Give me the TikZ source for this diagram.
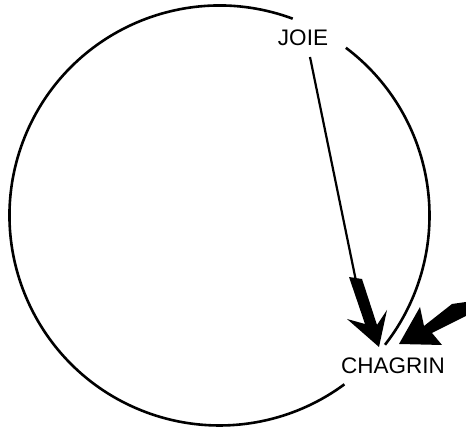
\documentclass[tikz,border=0pt]{standalone}
\usepackage{fontspec}
\setmainfont{Liberation Sans}
\begin{document}
\begin{tikzpicture}[x=1pt,y=1pt,
  ring/.style={line width=2.6pt},
  link/.style={line width=2.2pt},
  barbhead/.style={fill=black,draw=none},
  word/.style={inner sep=0pt,font=\fontsize{22.5}{27}\selectfont}]
\useasboundingbox (0,0) rectangle (466,427);
% circle arcs (centre 219.5,211.5, radius 210)
\coordinate (c) at (219.5,211.5);
\draw[ring] ([shift={(69.6:210)}]c) arc[start angle=69.6, end angle=306.5, radius=210];
\draw[ring] ([shift={(53:210)}]c) arc[start angle=53, end angle=-38, radius=210];
% labels
\node[word] (joie) at (303,389) {JOIE};
\node[word] (chagrin) at (393,61) {CHAGRIN};
% arrow from JOIE
\coordinate (jstart) at (310,370);
\coordinate (a1) at (356,146);
\draw[link] (jstart) -- (a1);
\fill[barbhead] (349,150) -- (362,148) -- (377,102) -- (387,117) -- (379,80) -- (347,108) -- (365,103) -- cycle;
% arrow from the right
\fill[barbhead] (452,123) -- (466,125) -- (466,111) -- (432,94) -- (442,82) -- (399,83) -- (420,120) -- (424,101) -- cycle;
\end{tikzpicture}
\end{document}
